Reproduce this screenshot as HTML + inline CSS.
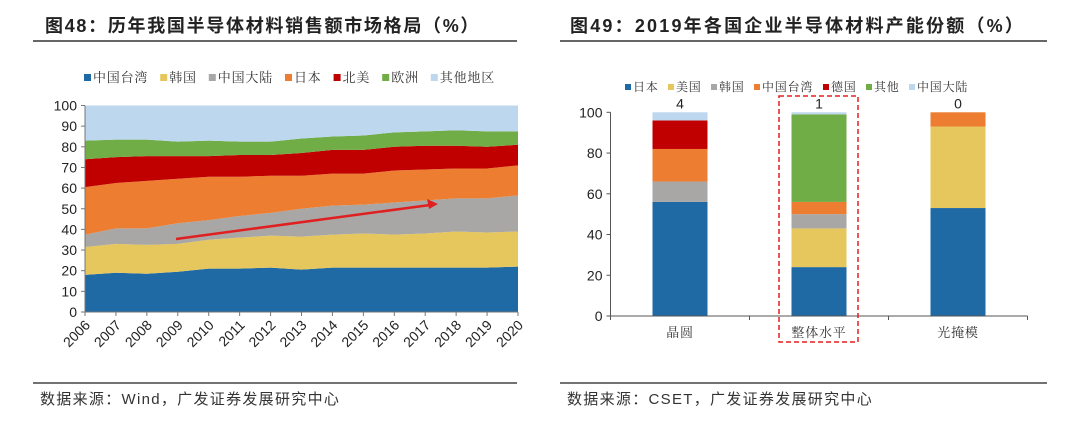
<!DOCTYPE html>
<html><head><meta charset="utf-8"><style>
body{margin:0;background:#fff;}
svg{display:block;font-family:"Liberation Sans","Noto Sans CJK SC",sans-serif;}
</style></head><body>
<svg id="s" width="1080" height="434" viewBox="0 0 1080 434">
<text x="45" y="32" font-size="18" font-weight="bold" fill="#222" letter-spacing="1.7">图48：历年我国半导体材料销售额市场格局（%）</text>
<line x1="33" y1="41" x2="517" y2="41" stroke="#333" stroke-width="1.5"/>
<text x="570" y="32" font-size="18" font-weight="bold" fill="#222" letter-spacing="2.2">图49：2019年各国企业半导体材料产能份额（%）</text>
<line x1="560" y1="41" x2="1047" y2="41" stroke="#333" stroke-width="1.5"/>
<line x1="33" y1="383" x2="517" y2="383" stroke="#444" stroke-width="1.5"/>
<line x1="560" y1="383" x2="1047" y2="383" stroke="#444" stroke-width="1.5"/>
<text x="40" y="404" font-size="15" fill="#333" letter-spacing="1.3">数据来源：Wind，广发证券发展研究中心</text>
<text x="567" y="404" font-size="15" fill="#333" letter-spacing="1.3">数据来源：CSET，广发证券发展研究中心</text>
<g id="L"></g>
<g id="R"></g>
</svg>
<script>
const years=['2006','2007','2008','2009','2010','2011','2012','2013','2014','2015','2016','2017','2018','2019','2020'];
const seriesNames=['中国台湾','韩国','中国大陆','日本','北美','欧洲','其他地区'];
const tw=[18,19,18.5,19.5,21,21,21.5,20.5,21.5,21.5,21.5,21.5,21.5,21.5,22];
const kr=[13.5,14,14,13.5,14,15,15.5,16,16,16.5,16,16.5,17.5,17,17];
const cn=[6,7.5,8,10,9.5,10.5,11,13.5,14,14,15.5,16,16,16.5,17.5];
const jp=[23,22,23,21.5,21,19,18,16,15.5,15,15.5,15,14.5,14.5,14.5];
const na=[13.5,12.5,12,11,10,10.5,10,11,11.5,11.5,11.5,11.5,11,10.5,10];
const eu=[9,8.5,8,7,7.5,6.5,6.5,7,6.5,7,7,7,7.5,7.5,6.5];
const other=[17,16.5,16.5,17.5,17,17.5,17.5,16,15,14.5,13,12.5,12,12.5,12.5];
const yTicks=[0,10,20,30,40,50,60,70,80,90,100];
const colors=['#1f6aa5','#e6c75e','#a9a6a6','#ed7d31','#c00000','#70ad47','#bdd7ee'];

const cats=['晶圆','整体水平','光掩模'];
const rNames=['日本','美国','韩国','中国台湾','德国','其他','中国大陆'];
const rJP=[56,24,53];
const rUS=[0,19,40];
const rKR=[10,7,0];
const rTW=[16,6,7];
const rDE=[14,0,0];
const rOT=[0,43,0];
const rCN=[4,1,0];
const rTicks=[0,20,40,60,80,100];

const NS='http://www.w3.org/2000/svg';
function mk(p,t,a,txt){const e=document.createElementNS(NS,t);for(const k in a)e.setAttribute(k,a[k]);if(txt!=null)e.textContent=txt;p.appendChild(e);return e;}

// left chart
const L=document.getElementById('L');
const x0=85,x1=518,y0=312,y1=105.5;
const xs=i=>x0+(x1-x0)*i/(years.length-1);
const ys=v=>y0-(y0-y1)*v/100;
const ser=[tw,kr,cn,jp,na,eu,other];
let base=years.map(()=>0);
ser.forEach((s,k)=>{
  const top=base.map((b,i)=>b+s[i]);
  let d='M'+top.map((v,i)=>xs(i)+','+ys(v)).join('L');
  for(let i=years.length-1;i>=0;i--)d+='L'+xs(i)+','+ys(base[i]);
  const p=mk(L,'path',{d:d+'Z',fill:colors[k]});
  
  
  base=top;
});
mk(L,'line',{x1:x0,y1:y1,x2:x0,y2:y0,stroke:'#777'});
mk(L,'line',{x1:x0,y1:y0,x2:x1,y2:y0,stroke:'#777'});
yTicks.forEach(t=>{
  mk(L,'line',{x1:x0-4,y1:ys(t),x2:x0,y2:ys(t),stroke:'#777'});
  const e=mk(L,'text',{x:x0-8,y:ys(t)+5,'font-size':14,'text-anchor':'end',fill:'#222'},t);
  
  
});
years.forEach((y,i)=>{
  mk(L,'line',{x1:xs(i),y1:y0,x2:xs(i),y2:y0+4,stroke:'#777'});
  const e=mk(L,'text',{x:xs(i)+6,y:y0+14,'font-size':14,'text-anchor':'end',fill:'#222',transform:`rotate(-45 ${xs(i)+6} ${y0+14})`},y);
  
  
});
const ar=mk(L,'g',{});


mk(ar,'line',{x1:176,y1:239,x2:430,y2:205,stroke:'#e02020','stroke-width':2.5});
mk(ar,'path',{d:'M438,204 L427,199 L429,209 Z',fill:'#e02020'});
let lx=84;
seriesNames.forEach((n,k)=>{
  const g=mk(L,'g',{});
  
  
  mk(g,'rect',{x:lx,y:74,width:7,height:7,fill:colors[k]});
  mk(g,'text',{x:lx+9,y:82,'font-size':13,fill:'#333','letter-spacing':0.8,'font-family':'"Noto Serif CJK SC",serif'},n);
  lx+=9+n.length*13.8+12;
});

// right chart
const R=document.getElementById('R');
const bx0=610.5,bw=139,ry0=316,ry1=112.3;
const rys=v=>ry0-(ry0-ry1)*v/100;
const rser=[rJP,rUS,rKR,rTW,rDE,rOT,rCN];
cats.forEach((c,i)=>{
  const cx=bx0+bw*(i+0.5);
  let b=0;
  rser.forEach((s,k)=>{
    if(s[i]>0){
      const r=mk(R,'rect',{x:cx-27.5,y:rys(b+s[i]),width:55,height:rys(b)-rys(b+s[i]),fill:colors[k]});
      
      
    }
    b+=s[i];
  });
  const t=mk(R,'text',{x:cx,y:rys(b)-4,'font-size':14,'text-anchor':'middle',fill:'#222'},rCN[i]);
  
  
  const cl=mk(R,'text',{x:cx,y:ry0+21,'font-size':13,'text-anchor':'middle',fill:'#333','letter-spacing':0.8,'font-family':'"Noto Serif CJK SC",serif'},c);
  
  
  mk(R,'line',{x1:bx0+bw*i,y1:ry0,x2:bx0+bw*i,y2:ry0+4,stroke:'#555'});
});
mk(R,'line',{x1:bx0+bw*3,y1:ry0,x2:bx0+bw*3,y2:ry0+4,stroke:'#555'});
mk(R,'line',{x1:bx0,y1:ry1,x2:bx0,y2:ry0,stroke:'#555'});
mk(R,'line',{x1:bx0,y1:ry0,x2:bx0+bw*3,y2:ry0,stroke:'#555'});
rTicks.forEach(t=>{
  mk(R,'line',{x1:bx0-4,y1:rys(t),x2:bx0,y2:rys(t),stroke:'#555'});
  const e=mk(R,'text',{x:bx0-8,y:rys(t)+5,'font-size':14,'text-anchor':'end',fill:'#222'},t);
  
  
});
const box=mk(R,'rect',{x:779,y:96,width:79,height:246,fill:'none',stroke:'#e02020','stroke-width':1.5,'stroke-dasharray':'5,3'});


let rx=625;
rNames.forEach((n,k)=>{
  const g=mk(R,'g',{});
  
  
  mk(g,'rect',{x:rx,y:84,width:6,height:6,fill:colors[k]});
  mk(g,'text',{x:rx+8,y:91,'font-size':12,fill:'#333','letter-spacing':0.8,'font-family':'"Noto Serif CJK SC",serif'},n);
  rx+=8+n.length*13+9;
});
</script>
</body></html>
